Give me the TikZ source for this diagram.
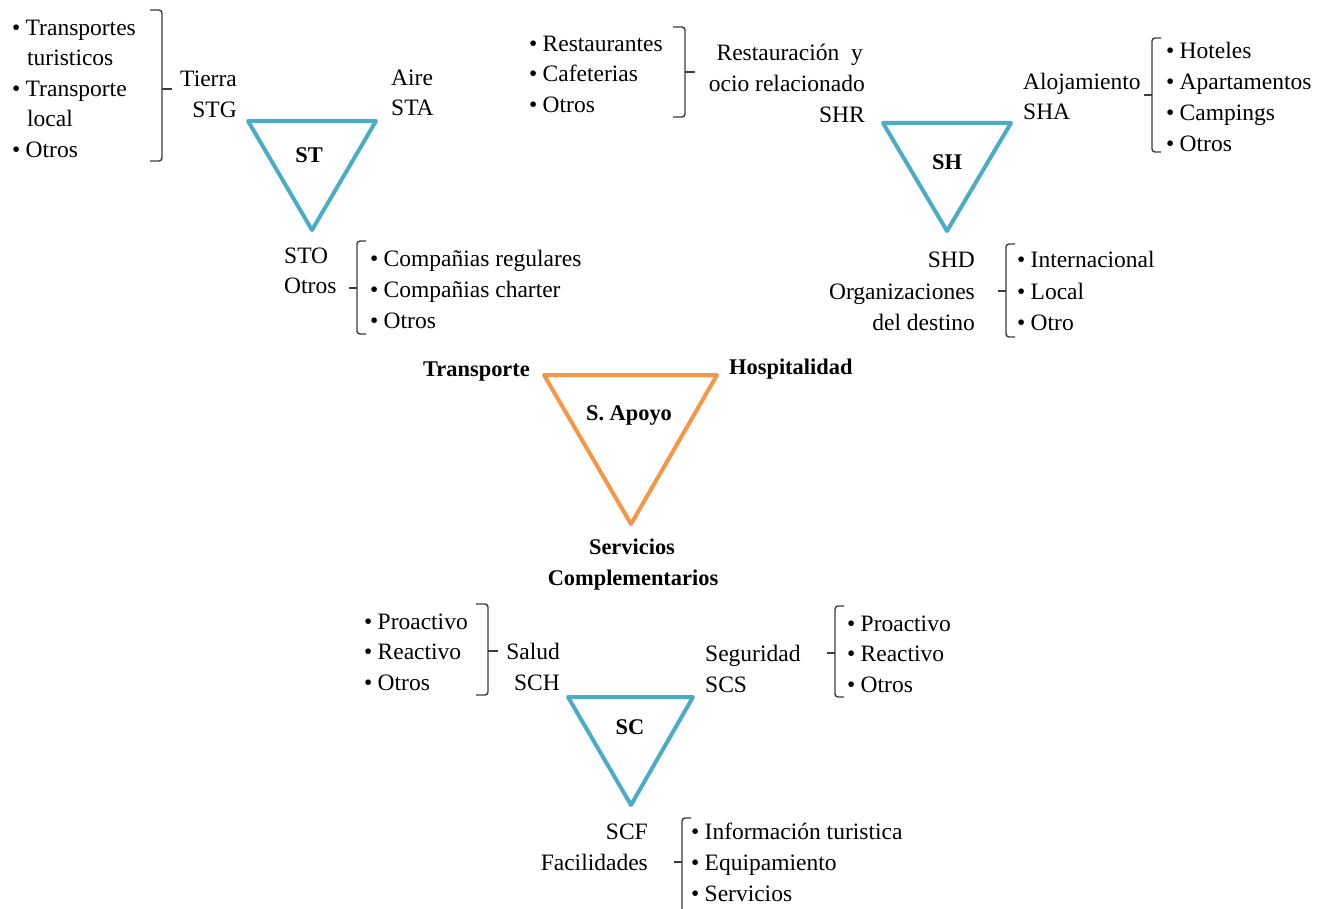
\documentclass[tikz,border=0pt]{standalone}
\usepackage{fontspec}
\setmainfont{Liberation Serif}
\definecolor{triblue}{RGB}{75,172,198}
\definecolor{triorange}{RGB}{247,150,70}
\definecolor{brkgray}{RGB}{60,60,60}
% bullet with fixed indent
\newcommand\bitem[1]{\makebox[13.5pt][l]{\textbullet}#1}
% closing brace "}" : x, top, bottom, middle
\newcommand\closebrk[4]{%
  \draw[brk,rounded corners=3pt] (#1-12,#2) -- (#1,#2) -- (#1,#3) -- (#1-12,#3);
  \draw[brk] (#1,#4) -- (#1+10,#4);}
% opening brace "{" : x, top, bottom, middle
\newcommand\openbrk[4]{%
  \draw[brk,rounded corners=3pt] (#1+9,#2) -- (#1,#2) -- (#1,#3) -- (#1+9,#3);
  \draw[brk] (#1,#4) -- (#1-8,#4);}
\begin{document}
\begin{tikzpicture}[x=1pt,y=-1pt,
  txt/.style={font=\fontsize{23.5}{30}\selectfont, inner sep=0pt},
  hd/.style={font=\fontsize{22.4}{30}\selectfont\bfseries, inner sep=0pt},
  bluetri/.style={draw=triblue, line width=4pt, line join=round},
  orangetri/.style={draw=triorange, line width=4pt, line join=round},
  brk/.style={draw=brkgray, line width=1.4pt},
  lt/.style={txt, anchor=base west},
  rt/.style={txt, anchor=base east},
  ct/.style={hd, anchor=base}]
\useasboundingbox (0,0) rectangle (1319,909);

% ---------------- Transporte (ST) ----------------
\coordinate (st1) at (248,121);
\coordinate (st2) at (376,121);
\coordinate (st3) at (312,230);
\draw[bluetri] (st1) -- (st2) -- (st3) -- cycle;
\node[ct] (stlbl) at (309,163) {ST};

\node[lt] (st-a1) at (12,36) {\bitem{Transportes}};
\node[lt] (st-a2) at (27,66) {turisticos};
\node[lt] (st-a3) at (12,97) {\bitem{Transporte}};
\node[lt] (st-a4) at (27,127) {local};
\node[lt] (st-a5) at (12,158) {\bitem{Otros}};
\closebrk{162}{10}{161}{89}
\node[rt] (tierra) at (237,87) {Tierra};
\node[rt] (stg) at (237,118) {STG};

\node[lt] (aire) at (391,86) {Aire};
\node[lt] (sta) at (391,116) {STA};

\node[lt] (sto) at (284,263) {STO};
\node[lt] (stotros) at (284,294) {Otros};
\openbrk{357}{241}{334}{288}
\node[lt] (st-c1) at (370,266) {\bitem{Compañias regulares}};
\node[lt] (st-c2) at (370,297) {\bitem{Compañias charter}};
\node[lt] (st-c3) at (370,328) {\bitem{Otros}};

% ---------------- Hospitalidad (SH) ----------------
\coordinate (sh1) at (883,123);
\coordinate (sh2) at (1011,123);
\coordinate (sh3) at (947,231);
\draw[bluetri] (sh1) -- (sh2) -- (sh3) -- cycle;
\node[ct] (shlbl) at (947,170) {SH};

\node[lt] (sh-r1) at (529,52) {\bitem{Restaurantes}};
\node[lt] (sh-r2) at (529,82) {\bitem{Cafeterias}};
\node[lt] (sh-r3) at (529,113) {\bitem{Otros}};
\closebrk{685}{27}{117}{72}
\node[rt] (rest1) at (863,61) {Restauración\ \ y};
\node[rt] (rest2) at (865,92) {ocio relacionado};
\node[rt] (shr) at (865,123) {SHR};

\node[lt] (aloj) at (1023,90) {Alojamiento};
\node[lt] (sha) at (1023,120) {SHA};
\openbrk{1152}{38}{152}{95}
\node[lt] (sh-a1) at (1166,59) {\bitem{Hoteles}};
\node[lt] (sh-a2) at (1166,90) {\bitem{Apartamentos}};
\node[lt] (sh-a3) at (1166,121) {\bitem{Campings}};
\node[lt] (sh-a4) at (1166,152) {\bitem{Otros}};

\node[rt] (shd) at (975,268) {SHD};
\node[rt] (org1) at (975,299) {Organizaciones};
\node[rt] (org2) at (975,330) {del destino};
\openbrk{1006}{244}{337}{291}
\node[lt] (sh-d1) at (1017,268) {\bitem{Internacional}};
\node[lt] (sh-d2) at (1017,299) {\bitem{Local}};
\node[lt] (sh-d3) at (1017,330) {\bitem{Otro}};

% ---------------- Servicios de apoyo ----------------
\coordinate (ap1) at (544,375);
\coordinate (ap2) at (717,375);
\coordinate (ap3) at (631,524);
\draw[orangetri] (ap1) -- (ap2) -- (ap3) -- cycle;
\node[ct] (aplbl) at (629,420) {S. Apoyo};
\node[hd, anchor=base east] (transp) at (530,376) {Transporte};
\node[hd, anchor=base west] (hosp) at (729,374) {Hospitalidad};
\node[ct] (serv1) at (632,554) {Servicios};
\node[ct] (serv2) at (633,585) {Complementarios};

% ---------------- Complementarios (SC) ----------------
\coordinate (sc1) at (568,697);
\coordinate (sc2) at (693,697);
\coordinate (sc3) at (631,805);
\draw[bluetri] (sc1) -- (sc2) -- (sc3) -- cycle;
\node[ct] (sclbl) at (630,734) {SC};

\node[lt] (sc-h1) at (364,629) {\bitem{Proactivo}};
\node[lt] (sc-h2) at (364,659) {\bitem{Reactivo}};
\node[lt] (sc-h3) at (364,690) {\bitem{Otros}};
\closebrk{488}{604}{695}{651}
\node[rt] (salud) at (560,659) {Salud};
\node[rt] (sch) at (560,690) {SCH};

\node[lt] (segur) at (705,661) {Seguridad};
\node[lt] (scs) at (705,692) {SCS};
\openbrk{835}{606}{697}{653}
\node[lt] (sc-s1) at (847,631) {\bitem{Proactivo}};
\node[lt] (sc-s2) at (847,661) {\bitem{Reactivo}};
\node[lt] (sc-s3) at (847,692) {\bitem{Otros}};

\node[rt] (scf) at (648,839) {SCF};
\node[rt] (facil) at (648,870) {Facilidades};
\draw[brk,rounded corners=3pt] (691,818) -- (682,818) -- (682,912);
\draw[brk] (682,862) -- (674,862);
\node[lt] (sc-f1) at (691,839) {\bitem{Información turistica}};
\node[lt] (sc-f2) at (691,870) {\bitem{Equipamiento}};
\node[lt] (sc-f3) at (691,901) {\bitem{Servicios}};
\end{tikzpicture}
\end{document}
